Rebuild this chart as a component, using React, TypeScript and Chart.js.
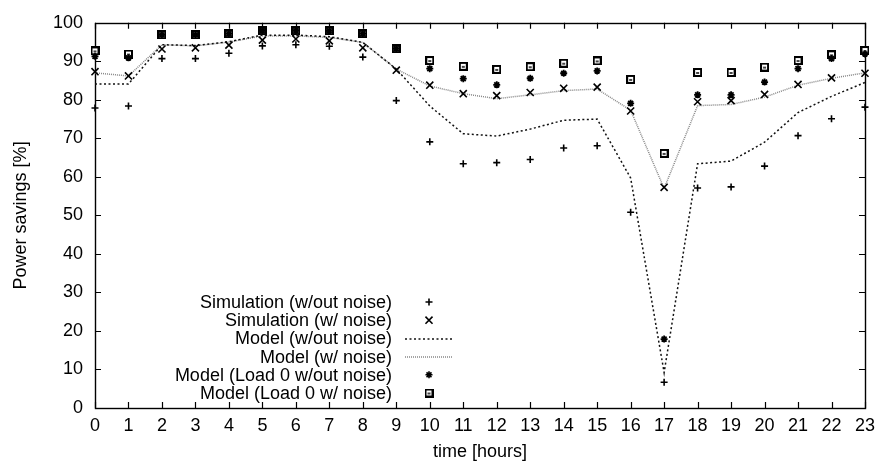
import React, { useEffect, useRef } from "react";
import { Chart, registerables } from "chart.js";
import { drawPoint } from "chart.js/helpers";

Chart.register(...registerables);

const hours = [0, 1, 2, 3, 4, 5, 6, 7, 8, 9, 10, 11, 12, 13, 14, 15, 16, 17, 18, 19, 20, 21, 22, 23];
const simNoNoise = [77.9, 78.4, 90.7, 90.7, 92.1, 94.0, 94.3, 93.9, 91.1, 79.8, 69.1, 63.4, 63.7, 64.5, 67.5, 68.1, 50.8, 6.7, 57.1, 57.4, 62.8, 70.7, 75.1, 78.1];
const simNoise = [87.3, 86.2, 93.2, 93.5, 94.2, 95.5, 95.8, 95.3, 93.5, 87.7, 83.8, 81.6, 81.1, 81.9, 83.0, 83.3, 77.1, 57.3, 79.5, 79.8, 81.4, 84.0, 85.7, 86.9];
const modelNoNoise = [84.1, 84.1, 94.3, 94.1, 95.1, 96.8, 96.8, 96.4, 94.9, 88.0, 78.4, 71.2, 70.6, 72.4, 74.7, 75.0, 59.7, 9.2, 63.4, 64.1, 69.0, 76.7, 80.9, 84.5];
const modelNoise = [87.0, 86.2, 94.3, 94.0, 95.0, 96.6, 96.6, 96.2, 94.9, 88.0, 83.6, 81.6, 80.3, 81.3, 82.4, 82.8, 77.3, 57.0, 78.5, 78.8, 80.7, 83.8, 85.6, 87.0];
const load0NoNoise = [91.3, 90.9, 96.9, 96.9, 97.2, 98.0, 98.0, 97.9, 97.2, 93.3, 88.1, 85.5, 83.9, 85.6, 86.9, 87.5, 79.1, 17.9, 81.3, 81.3, 84.6, 88.1, 90.7, 91.9];
const load0Noise = [92.7, 91.9, 96.9, 96.9, 97.2, 98.0, 98.0, 97.9, 97.2, 93.3, 90.2, 88.7, 87.9, 88.6, 89.5, 90.1, 85.3, 66.1, 87.1, 87.1, 88.5, 90.2, 91.7, 92.8];

const seriesLabels = [
  "Simulation (w/out noise)",
  "Simulation (w/ noise)",
  "Model (w/out noise)",
  "Model (w/ noise)",
  "Model (Load 0 w/out noise)",
  "Model (Load 0 w/ noise)",
];

const FONT = "'Liberation Sans', Arial, Helvetica, sans-serif";
const FSIZE = 18;

function toPoints(vals: number[]) {
  return hours.map((h, i) => ({ x: h, y: vals[i] }));
}

function makeBoxMarker(): HTMLCanvasElement {
  const c = document.createElement("canvas");
  c.width = 9;
  c.height = 9;
  const g = c.getContext("2d")!;
  g.fillStyle = "#000";
  g.fillRect(0, 0, 9, 9);
  g.fillStyle = "#fff";
  g.fillRect(2, 2, 5, 5);
  g.fillStyle = "#444";
  g.fillRect(3, 4, 3, 2);
  return c;
}

const framePlugin = {
  id: "gpFrame",
  beforeDatasetsDraw(chart: any) {
    const { ctx, chartArea } = chart;
    const { left, right, top, bottom } = chartArea;
    const xs = chart.scales.x;
    const ys = chart.scales.y;
    const tl = 6;
    ctx.save();
    ctx.strokeStyle = "#000";
    ctx.lineWidth = 1.2;
    ctx.beginPath();
    xs.ticks.forEach((t: any) => {
      const px = Math.round(xs.getPixelForValue(t.value)) + 0.5;
      ctx.moveTo(px, bottom);
      ctx.lineTo(px, bottom - tl);
      ctx.moveTo(px, top);
      ctx.lineTo(px, top + tl);
    });
    ys.ticks.forEach((t: any) => {
      const py = Math.round(ys.getPixelForValue(t.value)) + 0.5;
      ctx.moveTo(left, py);
      ctx.lineTo(left + tl, py);
      ctx.moveTo(right, py);
      ctx.lineTo(right - tl, py);
    });
    ctx.stroke();
    ctx.lineWidth = 1.4;
    ctx.strokeRect(Math.round(left) + 0.5, Math.round(top) + 0.5, Math.round(right - left), Math.round(bottom - top));
    ctx.restore();
  },
};

const keyPlugin = {
  id: "gpKey",
  afterDatasetsDraw(chart: any) {
    const { ctx, chartArea } = chart;
    const textRight = chartArea.left + 297;
    const sampleL = textRight + 13;
    const sampleR = textRight + 60;
    const sampleC = textRight + 37;
    const rowH = 18.2;
    const lastRowY = chartArea.bottom - 15;
    const ds = chart.data.datasets;
    ctx.save();
    ctx.font = `${FSIZE}px ${FONT}`;
    ctx.textAlign = "right";
    ctx.textBaseline = "middle";
    ds.forEach((d: any, i: number) => {
      const y = lastRowY - (ds.length - 1 - i) * rowH;
      ctx.fillStyle = "#000";
      ctx.fillText(d.label, textRight, y + 1);
      if (d.showLine) {
        ctx.save();
        ctx.strokeStyle = d.borderColor;
        ctx.lineWidth = d.borderWidth;
        ctx.setLineDash(d.borderDash || []);
        ctx.beginPath();
        ctx.moveTo(sampleL, y + 0.5);
        ctx.lineTo(sampleR, y + 0.5);
        ctx.stroke();
        ctx.restore();
      } else {
        ctx.save();
        ctx.strokeStyle = d.pointBorderColor;
        ctx.fillStyle = d.pointBackgroundColor;
        drawPoint(ctx, {
          pointStyle: d.pointStyle,
          radius: d.pointRadius,
          rotation: 0,
          borderWidth: d.pointBorderWidth,
        } as any, sampleC, y);
        ctx.restore();
      }
    });
    ctx.restore();
  },
};

export default function App() {
  const canvasRef = useRef<HTMLCanvasElement | null>(null);

  useEffect(() => {
    if (!canvasRef.current) return;
    const box = makeBoxMarker();
    const pointDs = (label: string, vals: number[], style: any, radius: number, bw: number) => ({
      label,
      data: toPoints(vals),
      showLine: false,
      pointStyle: style,
      pointRadius: radius,
      pointHoverRadius: radius,
      pointBorderWidth: bw,
      pointBorderColor: "#000",
      pointBackgroundColor: "#000",
      borderColor: "#000",
      backgroundColor: "#000",
      clip: false as any,
    });
    const lineDs = (label: string, vals: number[], color: string, dash: number[], width: number) => ({
      label,
      data: toPoints(vals),
      showLine: true,
      borderColor: color,
      borderWidth: width,
      borderDash: dash,
      pointRadius: 0,
      pointHoverRadius: 0,
      tension: 0,
      fill: false,
      clip: false as any,
    });

    const chart = new Chart(canvasRef.current, {
      type: "scatter",
      data: {
        datasets: [
          pointDs(seriesLabels[0], simNoNoise, "cross", 3.5, 1.6),
          pointDs(seriesLabels[1], simNoise, "crossRot", 5, 1.6),
          lineDs(seriesLabels[2], modelNoNoise, "#111", [2, 2.5], 1.5),
          lineDs(seriesLabels[3], modelNoise, "#888", [1, 1], 1.5),
          pointDs(seriesLabels[4], load0NoNoise, "star", 3.5, 1.8),
          pointDs(seriesLabels[5], load0Noise, box, 4.5, 1),
        ] as any,
      },
      options: {
        animation: false,
        responsive: true,
        maintainAspectRatio: false,
        layout: { padding: { top: 15, right: 13, left: 0, bottom: 0 } },
        plugins: {
          legend: { display: false },
          tooltip: { enabled: false },
        },
        scales: {
          x: {
            type: "linear",
            min: 0,
            max: 23,
            grid: { display: false, drawTicks: false },
            border: { display: false },
            ticks: {
              stepSize: 1,
              padding: 7,
              color: "#000",
              font: { family: FONT, size: FSIZE },
              maxRotation: 0,
              autoSkip: false,
            },
            title: {
              display: true,
              text: "time [hours]",
              color: "#000",
              font: { family: FONT, size: FSIZE },
              padding: { top: 0, bottom: 6 },
            },
            afterFit(scale: any) {
              scale.height = 61;
            },
          },
          y: {
            type: "linear",
            min: 0,
            max: 100,
            grid: { display: false, drawTicks: false },
            border: { display: false },
            ticks: {
              stepSize: 10,
              padding: 12,
              color: "#000",
              font: { family: FONT, size: FSIZE },
            },
            title: {
              display: true,
              text: "Power savings [%]",
              color: "#000",
              font: { family: FONT, size: FSIZE },
              padding: { top: 10, bottom: 0 },
            },
            afterFit(scale: any) {
              scale.width = 95;
            },
          },
        },
      },
      plugins: [framePlugin, keyPlugin],
    });
    return () => chart.destroy();
  }, []);

  return (
    <div style={{ position: "absolute", left: 0, top: 0, width: 882, height: 469, background: "#fff" }}>
      <canvas ref={canvasRef} />
    </div>
  );
}
